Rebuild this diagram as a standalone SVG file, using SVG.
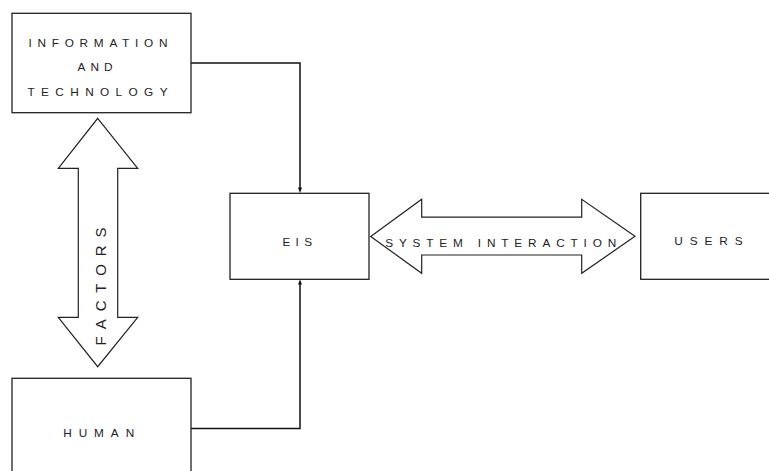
<svg xmlns="http://www.w3.org/2000/svg" width="769" height="471" viewBox="0 0 769 471">
  <style>
    .box { fill: #ffffff; stroke: #222222; stroke-width: 1.3; }
    .big { fill: #ffffff; stroke: #222222; stroke-width: 1.2; stroke-linejoin: miter; }
    .lbl { font-family: "Liberation Sans", Arial, sans-serif; font-size: 11.8px; fill: #222222; }
    .wire { fill: none; stroke: #111111; stroke-width: 1.5; }
    .head { fill: #111111; }
  </style>
  <rect width="769" height="471" fill="#ffffff"/>

  <!-- elbow links into the EIS box, each with a small arrowhead -->
  <g id="connectors">
    <path class="wire" d="M191,63 H300 V189"/>
    <path class="wire" d="M191,428.5 H300 V283"/>
    <polygon class="head" points="298,187.5 302,187.5 300,193"/>
    <polygon class="head" points="298,284.5 302,284.5 300,279.5"/>
  </g>

  <g id="info-tech">
    <rect class="box" x="12" y="13.3" width="179" height="99.4"/>
    <text class="lbl" x="28.5" y="46.7" textLength="139" lengthAdjust="spacing">INFORMATION</text>
    <text class="lbl" x="77.5" y="71" textLength="35" lengthAdjust="spacing">AND</text>
    <text class="lbl" x="27.5" y="96" textLength="140" lengthAdjust="spacing">TECHNOLOGY</text>
  </g>

  <g id="factors">
    <polygon class="big" points="97.7,118.3 137.7,168.3 117.7,168.3 117.7,317.3 137.7,317.3 97.7,366.7 58.3,317.3 78.3,317.3 78.3,168.3 58.3,168.3"/>
    <text class="lbl" style="font-size:15px" transform="translate(105.5,345) rotate(-90)" x="-0.5" y="0" textLength="118" lengthAdjust="spacing">FACTORS</text>
  </g>

  <g id="human">
    <rect class="box" x="12" y="378.3" width="179" height="110"/>
    <text class="lbl" x="63.2" y="437.3" textLength="71" lengthAdjust="spacing">HUMAN</text>
  </g>

  <g id="eis">
    <rect class="box" x="230" y="193.3" width="139" height="86"/>
    <text class="lbl" x="282.5" y="245.7" textLength="29.5" lengthAdjust="spacing">EIS</text>
  </g>

  <g id="system-interaction">
    <polygon class="big" points="370.7,236.5 421.7,199.3 421.7,217.2 581.7,217.2 581.7,199.3 635,236.3 581.7,273.3 581.7,255 421.7,255 421.7,273.3"/>
    <text class="lbl" x="385.2" y="247" textLength="231" lengthAdjust="spacing">SYSTEM INTERACTION</text>
  </g>

  <g id="users">
    <rect class="box" x="640.7" y="193.3" width="140" height="86"/>
    <text class="lbl" x="674.2" y="245" textLength="68.5" lengthAdjust="spacing">USERS</text>
  </g>
</svg>
